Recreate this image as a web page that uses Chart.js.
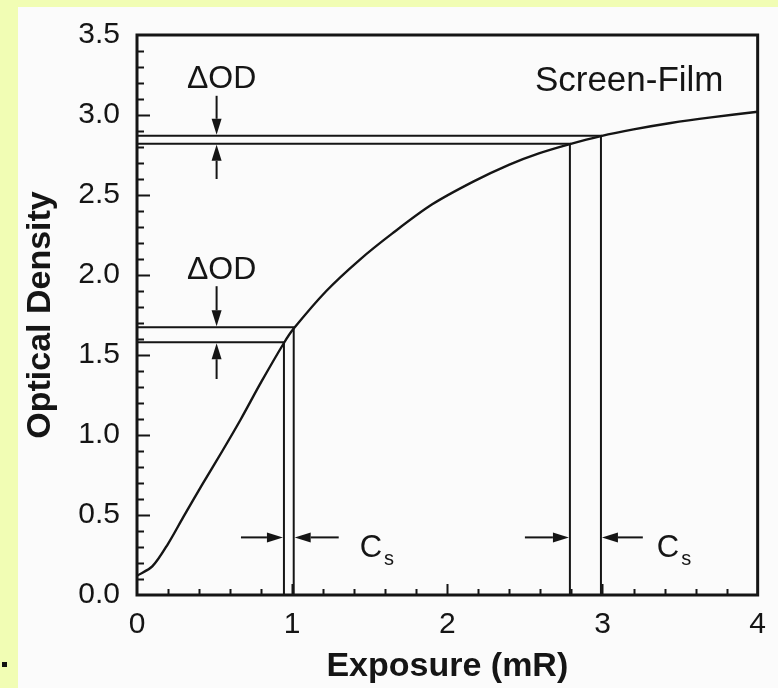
<!DOCTYPE html>
<html>
<head>
<meta charset="utf-8">
<script src="https://cdn.jsdelivr.net/npm/chart.js@4"></script>
<style>
html, body { margin: 0; padding: 0; background: #f1fdb4; }
#sheet { position: absolute; left: 18px; top: 7px; width: 760px; height: 681px; background: #fbfbfb; }
#dot { position: absolute; left: 2px; top: 662px; width: 5px; height: 5px; background: #111; }
canvas { position: absolute; left: 0; top: 0; }
</style>
</head>
<body>
<div id="sheet"></div>
<div id="dot"></div>
<canvas id="chart" width="778" height="688"></canvas>
<script>
// characteristic curve
const exposure = [0, 0.1, 0.2, 0.3, 0.42, 0.55, 0.67, 0.8, 0.947, 1.01, 1.22, 1.435, 1.646, 1.9, 2.17, 2.4, 2.59, 2.79, 2.99, 3.2, 3.44, 3.7, 4.0];
const density = [0.12, 0.18, 0.32, 0.49, 0.69, 0.90, 1.10, 1.33, 1.575, 1.665, 1.90, 2.095, 2.26, 2.44, 2.585, 2.69, 2.76, 2.818, 2.868, 2.91, 2.95, 2.985, 3.02];

// drop lines: exposure / density pairs
const markExposure = [0.947, 1.01, 2.79, 2.99];
const markDensity = [1.58, 1.673, 2.82, 2.87];

const xTicks = [0, 1, 2, 3, 4];
const yTicks = [0, 0.5, 1.0, 1.5, 2.0, 2.5, 3.0, 3.5];

const INK = '#151515';
const FONT = '"Liberation Sans", Arial, sans-serif';

function arrow(ctx, x1, y1, x2, y2) {
    const len = 16, half = 5;
    const ang = Math.atan2(y2 - y1, x2 - x1);
    const bx = x2 - len * Math.cos(ang), by = y2 - len * Math.sin(ang);
    ctx.beginPath();
    ctx.moveTo(x1, y1);
    ctx.lineTo(bx, by);
    ctx.stroke();
    ctx.beginPath();
    ctx.moveTo(x2, y2);
    ctx.lineTo(bx + half * Math.sin(ang), by - half * Math.cos(ang));
    ctx.lineTo(bx - half * Math.sin(ang), by + half * Math.cos(ang));
    ctx.closePath();
    ctx.fill();
}

const frameAndNotes = {
    id: 'frameAndNotes',
    afterDatasetsDraw(chart) {
        const {ctx, chartArea: a, scales: {x, y}} = chart;
        ctx.save();
        ctx.strokeStyle = INK;
        ctx.fillStyle = INK;

        // inward tick marks
        ctx.lineWidth = 2;
        ctx.beginPath();
        for (let i = 1; i < 35; i++) {
            const py = Math.round(y.getPixelForValue(i / 10)) + 0.5;
            const len = i % 5 === 0 ? 13 : 7;
            ctx.moveTo(a.left, py);
            ctx.lineTo(a.left + len, py);
        }
        for (let i = 1; i < 20; i++) {
            const px = Math.round(x.getPixelForValue(i / 5)) + 0.5;
            const len = i % 5 === 0 ? 11 : 6;
            ctx.moveTo(px, a.bottom);
            ctx.lineTo(px, a.bottom - len);
        }
        ctx.stroke();

        // frame
        ctx.lineWidth = 3;
        ctx.strokeRect(a.left, a.top, a.right - a.left, a.bottom - a.top);

        // delta OD arrows
        ctx.lineWidth = 2;
        const ax = x.getPixelForValue(0.513);
        arrow(ctx, ax, y.getPixelForValue(3.12), ax, y.getPixelForValue(markDensity[3]) - 1);
        arrow(ctx, ax, y.getPixelForValue(2.60), ax, y.getPixelForValue(markDensity[2]) + 1);
        arrow(ctx, ax, y.getPixelForValue(1.93), ax, y.getPixelForValue(markDensity[1]) - 1);
        arrow(ctx, ax, y.getPixelForValue(1.35), ax, y.getPixelForValue(markDensity[0]) + 1);

        // Cs arrows
        const ay = y.getPixelForValue(0.36);
        arrow(ctx, x.getPixelForValue(0.67), ay, x.getPixelForValue(markExposure[0]) - 1, ay);
        arrow(ctx, x.getPixelForValue(1.30), ay, x.getPixelForValue(markExposure[1]) + 1, ay);
        arrow(ctx, x.getPixelForValue(2.50), ay, x.getPixelForValue(markExposure[2]) - 1, ay);
        arrow(ctx, x.getPixelForValue(3.26), ay, x.getPixelForValue(markExposure[3]) + 1, ay);

        // labels
        ctx.textBaseline = 'alphabetic';
        ctx.textAlign = 'center';
        ctx.font = '32px ' + FONT;
        ctx.fillText('\u0394OD', x.getPixelForValue(0.545), y.getPixelForValue(3.17));
        ctx.fillText('\u0394OD', x.getPixelForValue(0.545), y.getPixelForValue(1.975));

        ctx.textAlign = 'left';
        [1.435, 3.35].forEach(v => {
            const px = x.getPixelForValue(v);
            ctx.font = '31px ' + FONT;
            ctx.fillText('C', px, y.getPixelForValue(0.237));
            const w = ctx.measureText('C').width;
            ctx.font = '20px ' + FONT;
            ctx.fillText('s', px + w + 2, y.getPixelForValue(0.186));
        });

        ctx.textAlign = 'right';
        ctx.font = '35px ' + FONT;
        ctx.fillText('Screen-Film', x.getPixelForValue(3.78), y.getPixelForValue(3.147));
        ctx.restore();
    }
};

const lineStyle = {
    borderColor: INK,
    borderWidth: 2,
    pointRadius: 0,
    fill: false
};

const datasets = [{
    ...lineStyle,
    data: exposure.map((e, i) => ({x: e, y: density[i]})),
    tension: 0.3,
    borderWidth: 2.4
}];
markExposure.forEach((e, i) => {
    datasets.push({
        ...lineStyle,
        data: [{x: 0, y: markDensity[i]}, {x: e, y: markDensity[i]}, {x: e, y: 0}]
    });
});

const ctx = document.getElementById('chart').getContext('2d');
new Chart(ctx, {
    type: 'line',
    data: {datasets: datasets},
    plugins: [frameAndNotes],
    options: {
        responsive: false,
        animation: false,
        devicePixelRatio: 1,
        layout: {padding: {left: 0, top: 30, right: 10, bottom: 0}},
        plugins: {legend: {display: false}, tooltip: {enabled: false}},
        scales: {
            x: {
                type: 'linear',
                min: 0,
                max: 4,
                afterFit(s) { s.height = 93; },
                afterBuildTicks(s) { s.ticks = xTicks.map(v => ({value: v})); },
                grid: {display: false, drawTicks: false},
                border: {display: false},
                ticks: {
                    color: INK,
                    font: {family: FONT, size: 30},
                    padding: 12,
                    maxRotation: 0,
                    autoSkip: false
                },
                title: {
                    display: true,
                    text: 'Exposure (mR)',
                    color: INK,
                    font: {family: FONT, size: 34, weight: 'bold'},
                    padding: {top: 0, bottom: 1}
                }
            },
            y: {
                type: 'linear',
                min: 0,
                max: 3.5,
                afterFit(s) { s.width = 137; },
                afterBuildTicks(s) { s.ticks = yTicks.map(v => ({value: v})); },
                grid: {display: false, drawTicks: false},
                border: {display: false},
                ticks: {
                    color: INK,
                    font: {family: FONT, size: 30},
                    padding: 17,
                    autoSkip: false,
                    callback: v => v.toFixed(1)
                },
                title: {
                    display: true,
                    text: 'Optical Density',
                    color: INK,
                    font: {family: FONT, size: 34, weight: 'bold'},
                    padding: {top: 20, bottom: 0}
                }
            }
        }
    }
});
</script>
</body>
</html>
